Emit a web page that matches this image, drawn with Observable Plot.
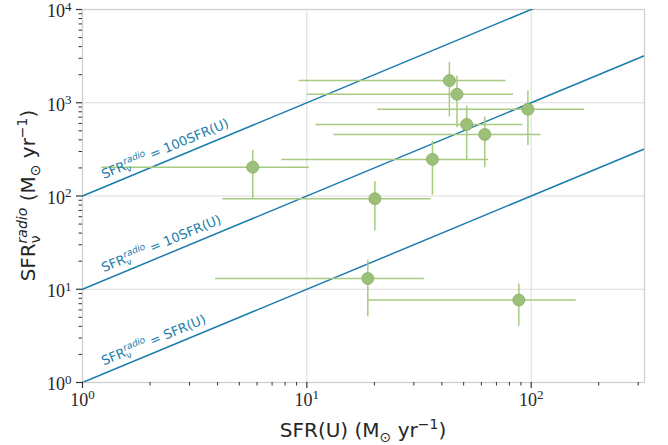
<!DOCTYPE html>
<html><head><meta charset="utf-8">
<script src="https://cdn.jsdelivr.net/npm/d3@7"></script>
<script src="https://cdn.jsdelivr.net/npm/@observablehq/plot@0.6"></script>
<style>
body{margin:0;background:#fff}
#chart svg{display:block;overflow:visible}
#chart g[aria-label$="tick label"]{font-family:"Liberation Serif",serif;font-size:18px;fill:#262626}
</style>
</head><body><div id="chart"></div>
<script>
// ---- data ----
const sfrU      = [43.2, 46.7, 96.7, 51.6, 62.1, 36.3, 20.1, 5.74, 18.7, 88.1];
const sfrULo    = [9.24, 10.07, 20.7, 10.97, 13.2, 7.73, 4.22, 1.22, 3.92, 18.7];
const sfrUHi    = [77.3, 83.4, 173, 91.8, 110.8, 64.7, 35.8, 10.26, 33.4, 158.8];
const sfrRadio   = [1727, 1233, 852, 585, 457, 247, 93.5, 204, 13.05, 7.66];
const sfrRadioLo = [705, 538, 349, 243, 201, 102.5, 42.2, 92.2, 5.08, 4.0];
const sfrRadioHi = [2710, 1920, 1349, 917, 705, 387, 142, 308, 20.5, 11.4];

const ratios = [1, 10, 100];
const ratioText = ["SFR(U)", "10SFR(U)", "100SFR(U)"];
const xDomain = [1, 320];
const yDomain = [1, 10000];
const xMajor = [1, 10, 100];
const xMinor = [2,3,4,5,6,7,8,9,20,30,40,50,60,70,80,90,200,300];
const yMajor = [1, 10, 100, 1000, 10000];
const yMinor = [2,3,4,5,6,7,8,9,20,30,40,50,60,70,80,90,200,300,400,500,600,700,800,900,2000,3000,4000,5000,6000,7000,8000,9000];
const labelX0 = 1.25; // where line labels start (data x)

// ---- styles ----
const lineColor = "#1a7dab";
const errColor = "#a6cb80";
const dotFill = "#9cc078";
const dotStroke = "#87ab66";
const gridColor = "#dcdcdc";
const tickColor = "#333";

const points = sfrU.map((x, i) => ({x, xlo: sfrULo[i], xhi: sfrUHi[i], y: sfrRadio[i], ylo: sfrRadioLo[i], yhi: sfrRadioHi[i]}));
const lines = ratios.flatMap(k => xDomain.map(x => ({k, x, y: k * x})));
const sup = d => "10^" + Math.round(Math.log10(d));

const W = 668, H = 445, mL = 82, mR = 24, mT = 9, mB = 63;
const plot = Plot.plot({
  width: W, height: H, marginLeft: mL, marginRight: mR, marginTop: mT, marginBottom: mB,
  style: {background: "#fff", fontFamily: "DejaVu Sans", color: tickColor},
  x: {type: "log", domain: xDomain, label: null},
  y: {type: "log", domain: yDomain, label: null},
  marks: [
    Plot.gridX(xMajor.slice(1), {stroke: gridColor, strokeOpacity: 1, strokeWidth: 1}),
    Plot.gridY(yMajor.slice(1, -1), {stroke: gridColor, strokeOpacity: 1, strokeWidth: 1}),
    Plot.frame({stroke: "#cfcfcf", strokeWidth: 1.3}),
    Plot.line(lines, {x: "x", y: "y", z: "k", stroke: lineColor, strokeWidth: 1.5, clip: true}),
    Plot.ruleY(points, {y: "y", x1: "xlo", x2: "xhi", stroke: errColor, strokeWidth: 1.5}),
    Plot.ruleX(points, {x: "x", y1: "ylo", y2: "yhi", stroke: errColor, strokeWidth: 1.5}),
    Plot.dot(points, {x: "x", y: "y", r: 6, fill: dotFill, stroke: dotStroke, strokeWidth: 0.8}),
    Plot.axisX(xMajor, {tickSize: 6, tickPadding: 5, tickFormat: sup, label: null, stroke: tickColor, strokeWidth: 1.2}),
    Plot.axisX(xMinor, {tickSize: 3.5, tickFormat: () => "", label: null, stroke: tickColor, strokeWidth: 1}),
    Plot.axisY(yMajor, {tickSize: 6, tickPadding: 5, tickFormat: sup, label: null, stroke: tickColor, strokeWidth: 1.2}),
    Plot.axisY(yMinor, {tickSize: 3.5, tickFormat: () => "", label: null, stroke: tickColor, strokeWidth: 1})
  ]
});
document.getElementById("chart").appendChild(plot);

const svg = d3.select(plot);
// superscript tick labels
svg.selectAll('g[aria-label="x-axis tick label"] text, g[aria-label="y-axis tick label"] text').each(function () {
  const t = d3.select(this);
  const m = /^10\^(-?\d+)$/.exec(t.text());
  if (m) {
    const isY = this.parentNode.getAttribute("aria-label").startsWith("y");
    t.text("");
    t.append("tspan").attr("dy", isY ? 2 : 0).text("10");
    t.append("tspan").attr("dy", isY ? -6.5 : -7.5).attr("font-size", "13px").text(m[1]);
  }
});

function rich(sel, parts, fs) {
  let cur = 0;
  for (const p of parts) {
    const target = p.type === "sub" ? 0.25 * fs : p.type === "sup" ? -0.42 * fs : 0;
    const ts = sel.append("tspan").attr("dy", target - cur).text(p.t);
    cur = target;
    if (p.type !== "n") ts.attr("font-size", 0.7 * fs);
    if (p.italic) ts.attr("font-style", "italic");
    if (p.dx) ts.attr("dx", p.dx);
  }
}

const sx = plot.scale("x"), sy = plot.scale("y");
const titleColor = "#262626";
// x title
const xt = svg.append("text").attr("x", (mL + W - mR) / 2).attr("y", 437)
  .attr("text-anchor", "middle").attr("font-family", "DejaVu Sans").attr("font-size", 20).attr("fill", titleColor);
rich(xt, [{t: "SFR(U) (M", type: "n"}, {t: "⊙", type: "sub"}, {t: " yr", type: "n"}, {t: "−1", type: "sup"}, {t: ")", type: "n"}], 20);
// y title
const yt = svg.append("text").attr("transform", `translate(35,${(mT + H - mB) / 2}) rotate(-90)`)
  .attr("text-anchor", "middle").attr("font-family", "DejaVu Sans").attr("font-size", 20).attr("fill", titleColor);
rich(yt, [{t: "SFR", type: "n"}, {t: "ν", type: "sub"}, {t: "radio", type: "sup", italic: true, dx: -8}, {t: " (M", type: "n"}, {t: "⊙", type: "sub"}, {t: " yr", type: "n"}, {t: "−1", type: "sup"}, {t: ")", type: "n"}], 20);

// line labels along the relations
const ang = Math.atan2(sy.apply(1) - sy.apply(10), sx.apply(10) - sx.apply(1)) * 180 / Math.PI;
ratios.forEach((k, i) => {
  const px = sx.apply(labelX0), py = sy.apply(k * labelX0) - 7.5;
  const t = svg.append("text").attr("transform", `translate(${px},${py}) rotate(${-ang})`)
    .attr("text-anchor", "start")
    .attr("font-family", "DejaVu Sans").attr("font-size", 13).attr("fill", lineColor);
  rich(t, [{t: "SFR", type: "n"}, {t: "ν", type: "sub"}, {t: "radio", type: "sup", italic: true, dx: -5}, {t: " = " + ratioText[i], type: "n"}], 13);
});
</script>
</body></html>
